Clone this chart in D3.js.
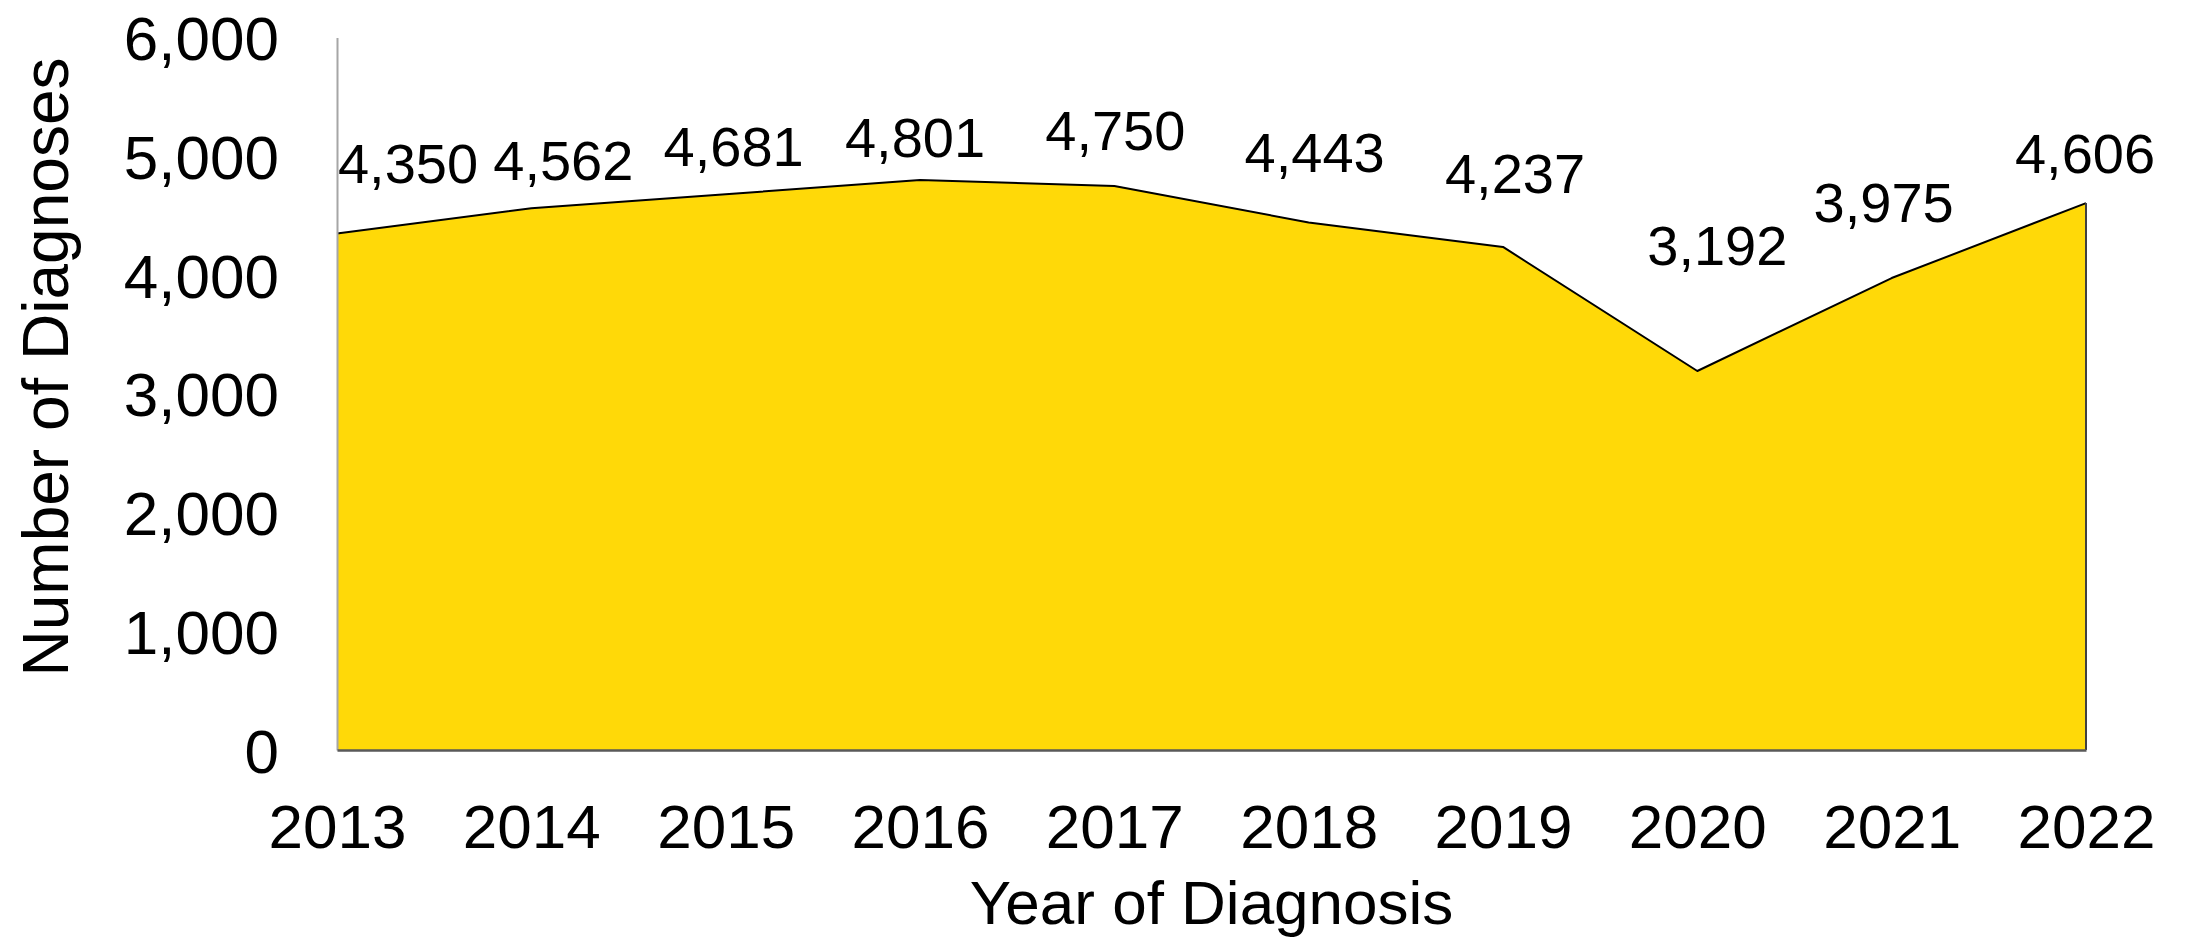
<!DOCTYPE html>
<html>
<head>
<meta charset="utf-8">
<script src="https://cdn.jsdelivr.net/npm/d3@7/dist/d3.min.js"></script>
<style>
  html, body { margin: 0; padding: 0; background: #ffffff; }
  svg { display: block; font-family: "Liberation Sans", Arial, sans-serif; }
</style>
</head>
<body>
<svg id="chart" width="2185" height="943"></svg>
<script>
// ---- data ----
const years = ["2013", "2014", "2015", "2016", "2017", "2018", "2019", "2020", "2021", "2022"];
const diagnoses = [4350, 4562, 4681, 4801, 4750, 4443, 4237, 3192, 3975, 4606];
const yTicks = [0, 1000, 2000, 3000, 4000, 5000, 6000];

// ---- layout (label nudges in px: [dx, dy above point]) ----
const labelNudge = [[0, 51], [32, 28], [8, 28], [-5, 23], [1, 36], [6, 50], [12, 54], [20, 106], [-8, 56], [-1, 30]];

(function () {
const svg = d3.select("#chart");
const mLeft = 337, mRight = 2086, mTop = 37.6, mBottom = 750;

const x = d3.scalePoint().domain(years).range([mLeft, mRight]);
const y = d3.scaleLinear().domain([0, 6000]).range([mBottom, mTop]);
const fmt = d3.format(",");

const pts = years.map((yr, i) => ({ yr, v: diagnoses[i], i }));

// area
const area = d3.area().x(d => x(d.yr)).y0(y(0)).y1(d => y(d.v));
svg.append("path").datum(pts).attr("d", area).attr("fill", "#FFD908").attr("stroke", "none");

// top outline + right edge
const line = d3.line().x(d => x(d.yr)).y(d => y(d.v));
svg.append("path").datum(pts).attr("d", line)
  .attr("fill", "none").attr("stroke", "#000").attr("stroke-width", 2).attr("stroke-linejoin", "round");
svg.append("line")
  .attr("x1", x(years[years.length - 1])).attr("x2", x(years[years.length - 1]))
  .attr("y1", y(diagnoses[diagnoses.length - 1])).attr("y2", y(0))
  .attr("stroke", "#404040").attr("stroke-width", 2);

// y axis
const yAxis = d3.axisLeft(y).tickValues(yTicks).tickFormat(fmt).tickSize(0).tickPadding(58);
const gy = svg.append("g").attr("transform", `translate(${mLeft},0)`).call(yAxis);
gy.select(".domain").attr("stroke", "#a6a6a6").attr("stroke-width", 2);
gy.selectAll("text").attr("font-size", 62).attr("fill", "#000")
  .attr("font-family", "'Liberation Sans', Arial, sans-serif").attr("dy", "0.355em");

// x axis
const xAxis = d3.axisBottom(x).tickSize(0).tickPadding(0);
const gx = svg.append("g").attr("transform", `translate(0,${mBottom})`).call(xAxis);
gx.select(".domain").attr("stroke", "#595959").attr("stroke-width", 2.5);
gx.selectAll("text").attr("font-size", 62).attr("fill", "#000")
  .attr("font-family", "'Liberation Sans', Arial, sans-serif").attr("dy", null).attr("y", 98);

// data labels
svg.append("g").selectAll("text").data(pts).join("text")
  .attr("x", d => x(d.yr) + labelNudge[d.i][0] + (d.i === 0 ? 71 : 0))
  .attr("y", d => y(d.v) - labelNudge[d.i][1])
  .attr("text-anchor", "middle")
  .attr("font-size", 56)
  .attr("fill", "#000")
  .text(d => fmt(d.v));

// axis titles
svg.append("text")
  .attr("x", (mLeft + mRight) / 2).attr("y", 924)
  .attr("text-anchor", "middle").attr("font-size", 62).attr("fill", "#000")
  .text("Year of Diagnosis");
svg.append("text")
  .attr("transform", "translate(68,367) rotate(-90)")
  .attr("text-anchor", "middle").attr("font-size", 64).attr("fill", "#000")
  .text("Number of Diagnoses");
})();
</script>
</body>
</html>
